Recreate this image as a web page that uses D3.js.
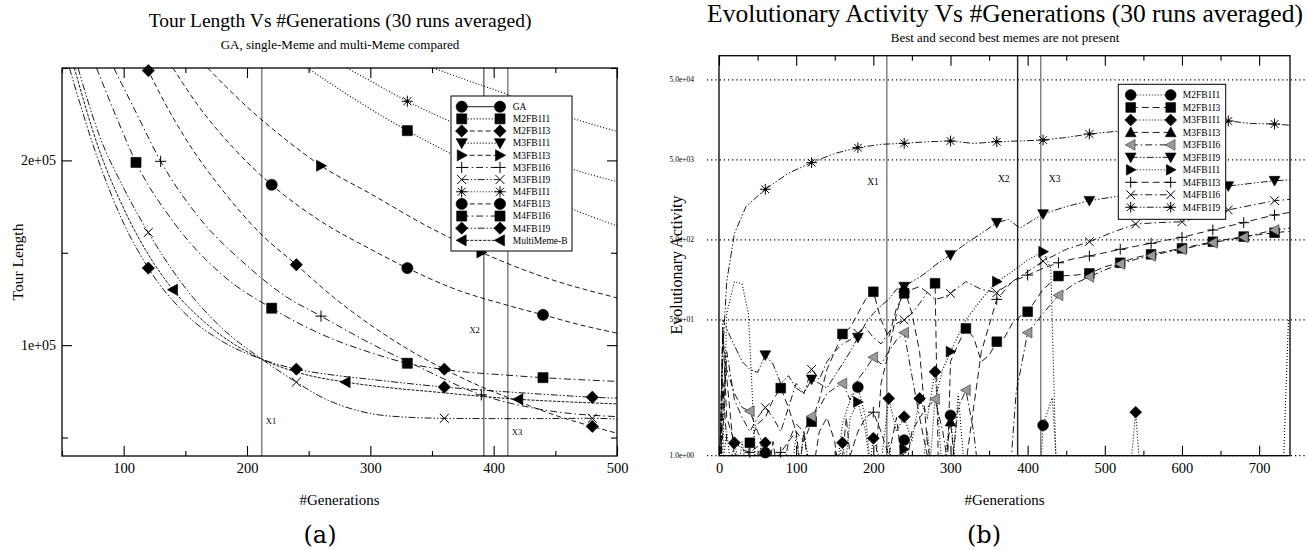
<!DOCTYPE html>
<html>
<head>
<meta charset="utf-8">
<script src="https://cdn.jsdelivr.net/npm/d3@7"></script>
<style>
  body { margin: 0; background: #fff; }
</style>
</head>
<body>
<script>
// ---------- panel (a): tour length, [generation, tour length] ----------
var tourGA = []; // GA curve lies above the plotted range
var tourM2FB1I1 = [[249,250000],[290,232000],[330,216100],[370,202000],[410,189000],[440,180500],[470,172000],[500,164500]];
var tourM2FB1I3 = [[119,250000],[120,248600],[150,212000],[180,184000],[210,161000],[240,143500],[270,126000],[300,111000],[330,98000],[360,87000],[390,77500],[420,69500],[450,62000],[480,56000],[500,52300]];
var tourM3FB1I1 = [[351,250000],[380,243000],[410,236000],[440,228000],[470,221500],[500,215700]];
var tourM3FB1I3 = [[168,250000],[200,229000],[230,212000],[260,197100],[300,182000],[350,163000],[390,150200],[440,137000],[500,125600]];
var tourM3FB1I6 = [[92,250000],[110,226000],[130,199500],[160,170000],[200,143000],[230,127000],[260,115700],[300,101000],[340,88000],[390,73100],[440,65000],[500,61300]];
var tourM3FB1I9 = [[63,250000],[80,214000],[100,185000],[120,161000],[150,131000],[180,109000],[212,92400],[240,80000],[260,72000],[280,66500],[300,63000],[330,61000],[360,60400],[420,60200],[480,60400],[500,60000]];
var tourM4FB1I1 = [[281,250000],[300,243000],[330,232000],[370,219500],[410,208500],[440,201000],[470,194000],[500,188500]];
var tourM4FB1I3 = [[140,250000],[160,230000],[190,206000],[220,186800],[260,167000],[300,152000],[330,141700],[370,130000],[410,121800],[440,116400],[470,111000],[500,106500]];
var tourM4FB1I6 = [[78,250000],[95,222000],[110,198900],[140,167000],[180,138000],[220,120000],[260,106000],[300,96000],[330,90200],[370,86000],[410,83800],[440,82400],[470,81300],[500,80400]];
var tourM4FB1I9 = [[56,250000],[80,199000],[100,166000],[120,141700],[150,117000],[180,102000],[212,92400],[240,87000],[270,83800],[300,81500],[330,79300],[360,77300],[390,75700],[420,74300],[450,73000],[480,71800],[500,71300]];
var tourMultiMemeB = [[60,250000],[80,206000],[100,174000],[120,149000],[140,130000],[170,110000],[212,92400],[245,84500],[280,80000],[315,77000],[350,74800],[385,72600],[420,70700],[460,69300],[500,68200]];

var tourXMajor = [100, 200, 300, 400, 500];
var tourXMinor = [50, 150, 250, 350, 450];
var tourYMajor = [100000, 200000];
var tourYMinor = [50000, 150000, 250000];
var tourEvents = [{label: "X1", gen: 212, at: 59000, side: 1}, {label: "X2", gen: 392, at: 108000, side: -1}, {label: "X3", gen: 411.5, at: 53000, side: 1}];

// ---------- panel (b): evolutionary activity, [generation, activity] ----------
// values below 1 fall under the log axis and are clipped away
var evoM2FB1I1 = [[0,0.3],[10,2],[20,0.3],[30,1.5],[40,0.3],[50,0.6],[60,1.09],[70,0.3],[90,0.3],[100,1.8],[110,0.3],[130,0.3],[150,0.4],[160,2.5],[170,5],[180,7.2],[190,3],[200,0.3],[210,0.4],[220,1.5],[230,0.3],[240,1.57],[250,0.3],[260,0.4],[270,2],[280,0.3],[290,0.6],[300,3.2],[310,0.3],[415,0.3],[420,2.4],[432,5.3],[440,0.3]];
var evoM2FB1I3 = [[0,0.3],[5,8],[10,1.5],[20,1.2],[30,0.3],[40,1.45],[50,2.5],[60,3],[70,5],[80,7.0],[90,4],[100,2],[110,1.5],[120,2.66],[130,5],[140,12],[150,20],[160,33.2],[170,40],[180,60],[190,90],[200,112],[210,50],[220,30],[230,70],[240,107],[250,120],[260,130],[270,110],[280,143],[285,0.3],[295,0.3],[300,15],[310,25],[320,39],[330,30],[340,15],[350,18],[360,26.6],[370,30],[380,45],[390,55],[400,63],[420,120],[440,176],[460,180],[480,190],[500,230],[520,258],[540,300],[560,329],[580,360],[600,391],[620,430],[640,473],[660,510],[680,548],[700,580],[720,613],[740,640]];
var evoM3FB1I1 = [[0,0.3],[10,0.5],[20,1.45],[30,0.5],[40,0.3],[50,0.5],[60,1.45],[70,0.4],[90,0.3],[100,0.6],[110,0.3],[130,0.3],[140,0.6],[150,0.5],[160,1.45],[170,0.4],[180,0.6],[190,0.3],[200,1.65],[210,0.8],[220,5.2],[230,2],[240,3.07],[250,1.5],[260,5.2],[270,3],[280,11.2],[290,0.5],[300,0.3],[310,6],[320,0.4],[330,0.3],[530,0.3],[540,3.5],[548,0.3],[730,0.3],[738,50]];
var evoM3FB1I3 = [[0,0.3],[8,15],[15,3],[25,0.3],[60,0.3],[70,1.5],[80,0.3],[100,0.3],[110,2],[120,0.3],[155,0.3],[165,3],[175,0.3],[200,0.3],[210,8],[220,20],[230,60],[240,125],[250,60],[260,20],[270,1.5],[280,0.3],[290,0.4],[300,2.66],[310,0.3],[340,0.3]];
var evoM3FB1I6 = [[0,0.3],[5,30],[10,12],[20,6],[30,4],[40,3.6],[50,2],[60,1.2],[70,0.5],[80,0.4],[90,1.5],[100,2.5],[110,2],[120,3.1],[130,4],[140,6],[150,7],[160,8.0],[170,5],[180,9],[190,12],[200,17],[210,14],[220,20],[230,28],[240,34.5],[250,10],[260,3],[270,4],[280,5.1],[290,2],[300,0.5],[310,4],[320,6.6],[330,2],[340,0.3],[360,0.4],[375,0.3],[385,6],[400,34.5],[420,60],[440,101],[460,140],[480,172],[500,210],[520,249],[540,285],[560,315],[580,350],[600,380],[620,420],[640,459],[660,500],[680,537],[700,600],[720,663],[740,700]];
var evoM3FB1I9 = [[0,0.3],[5,50],[15,30],[30,15],[40,12],[50,11],[60,18.1],[70,14],[80,8],[90,10],[100,7],[110,6],[120,9.0],[130,8],[140,7],[150,10],[160,14],[170,20],[180,30],[190,45],[200,60],[210,75],[220,90],[230,120],[240,130],[250,150],[260,170],[270,200],[280,240],[290,280],[300,323],[320,450],[340,600],[360,818],[375,900],[390,700],[420,1050],[450,1300],[480,1540],[540,1900],[600,2150],[660,2350],[720,2740],[740,2800]];
var evoM4FB1I1 = [[0,0.3],[5,1],[10,60],[20,150],[30,140],[38,60],[42,10],[48,0.5],[55,1.5],[60,0.5],[70,0.3],[100,0.3],[110,2],[120,0.5],[130,0.3],[160,0.3],[170,3],[180,4.7],[190,2],[200,0.3],[230,0.3],[240,1.2],[250,0.3],[270,0.3],[280,5],[290,12],[300,20],[320,50],[340,90],[360,150],[380,200],[400,280],[420,355],[430,220],[438,0.3]];
var evoM4FB1I3 = [[0,0.3],[5,40],[10,3],[20,1.5],[30,1.2],[40,1.1],[50,1.3],[60,1.5],[70,0.8],[80,1.1],[90,1.5],[100,2],[110,0.3],[120,0.5],[130,2],[140,3],[150,1.5],[160,0.3],[170,1],[180,2],[190,3],[200,3.5],[210,2],[220,1],[230,3],[240,0.5],[250,2],[260,3],[270,1],[280,0.3],[300,0.3],[320,0.8],[340,20],[360,90],[380,150],[400,181],[420,220],[440,258],[460,290],[480,313],[500,345],[520,380],[540,415],[560,452],[580,495],[600,537],[620,600],[640,663],[660,740],[680,818],[700,920],[720,1020],[740,1100]];
var evoM4FB1I6 = [[0,0.3],[5,2],[10,20],[20,5],[30,3],[40,2],[50,3],[60,4],[70,3],[80,2],[90,4],[100,8],[110,6],[120,12],[130,9],[140,15],[150,20],[160,25],[170,28],[180,33.9],[190,40],[200,30],[210,25],[220,35],[230,45],[240,49.7],[250,60],[260,80],[270,110],[280,90],[290,95],[300,107],[320,150],[340,120],[360,109],[380,150],[400,200],[420,270],[450,380],[480,473],[510,620],[540,787],[570,820],[600,841],[630,1000],[660,1180],[690,1350],[720,1540],[740,1600]];
var evoM4FB1I9 = [[2,0.3],[5,20],[10,150],[20,600],[35,1300],[60,2140],[90,3400],[120,4600],[150,6000],[180,7080],[210,7800],[240,8035],[270,8400],[300,8590],[330,8000],[360,8410],[390,8600],[420,8830],[450,9500],[480,10500],[540,12000],[600,13500],[660,15270],[690,14200],[720,14000],[740,13500]];

var evoXMajor = [0, 100, 200, 300, 400, 500, 600, 700];
var evoXMinor = [50, 150, 250, 350, 450, 550, 650];
var evoGrid = [1, 50, 500, 5000, 50000];
var evoEvents = [{label: "X1", gen: 217.5, at: 2660, side: -1}, {label: "X2", gen: 387, at: 2880, side: -1}, {label: "X3", gen: 417, at: 2880, side: 1}];

// ---------- drawing ----------
var serif = "'Liberation Serif','Times New Roman',serif";
var dashes = {solid: null, dot: "1,2", dash: "5,3", longDash: "7,4", dashDot: "7,3,1.5,3", dashDotDot: "7,2,1.5,2,1.5,2", fine: "3,1.3"};

var svg = d3.select("body").append("svg")
  .attr("width", 1308).attr("height", 550)
  .style("font-family", serif);
var defs = svg.append("defs");

function symPath(type, r) {
  var k = r * 0.8;
  switch (type) {
    case "circle": return "M" + r + ",0A" + r + "," + r + " 0 1,1 " + (-r) + ",0A" + r + "," + r + " 0 1,1 " + r + ",0Z";
    case "square": r = r * 0.9; return "M" + (-r) + "," + (-r) + "H" + r + "V" + r + "H" + (-r) + "Z";
    case "diamond": r = r * 1.1; return "M0," + (-r) + "L" + r + ",0L0," + r + "L" + (-r) + ",0Z";
    case "up": return "M0," + (-r) + "L" + r + "," + k + "L" + (-r) + "," + k + "Z";
    case "down": return "M0," + r + "L" + r + "," + (-k) + "L" + (-r) + "," + (-k) + "Z";
    case "right": return "M" + r + ",0L" + (-k) + "," + r + "L" + (-k) + "," + (-r) + "Z";
    case "left": case "leftGray": return "M" + (-r) + ",0L" + k + "," + r + "L" + k + "," + (-r) + "Z";
    case "plus": return "M" + (-r) + ",0H" + r + "M0," + (-r) + "V" + r;
    case "cross": k = r * 0.8; return "M" + (-k) + "," + (-k) + "L" + k + "," + k + "M" + (-k) + "," + k + "L" + k + "," + (-k);
    case "star": k = r * 0.72; return "M" + (-r) + ",0H" + r + "M0," + (-r) + "V" + r + "M" + (-k) + "," + (-k) + "L" + k + "," + k + "M" + (-k) + "," + k + "L" + k + "," + (-k);
  }
}

function drawSym(g, pts, type, r) {
  var open = type === "plus" || type === "cross" || type === "star";
  g.selectAll(null).data(pts).join("path")
    .attr("transform", function (d) { return "translate(" + d[0] + "," + d[1] + ")"; })
    .attr("d", symPath(type, r))
    .attr("fill", open ? "none" : (type === "leftGray" ? "#9a9a9a" : "#000"))
    .attr("stroke", type === "leftGray" ? "#333" : "#000")
    .attr("stroke-width", open ? 1 : 0.6);
  if (type === "star") {
    g.selectAll(null).data(pts).join("circle")
      .attr("cx", function (d) { return d[0]; }).attr("cy", function (d) { return d[1]; })
      .attr("r", 1.6).attr("fill", "#000");
  }
}

function panel(p) {
  var g = svg.append("g");
  var x = p.x, y = p.y;
  var cid = "clip-" + p.id;
  defs.append("clipPath").attr("id", cid).append("rect")
    .attr("x", p.left).attr("y", p.top)
    .attr("width", p.right - p.left).attr("height", p.bottom - p.top);

  // horizontal dotted grid (panel b)
  if (p.grid) {
    g.selectAll(null).data(p.grid).join("line")
      .attr("x1", p.left - 12).attr("x2", p.right + 15)
      .attr("y1", function (d) { return y(d); }).attr("y2", function (d) { return y(d); })
      .attr("stroke", "#000").attr("stroke-width", 1.2).attr("stroke-dasharray", "1.2,3");
    g.selectAll(null).data(p.grid).join("text")
      .attr("x", p.left - 25).attr("y", function (d) { return y(d) + 2.5; })
      .attr("text-anchor", "end").attr("font-size", 7.5)
      .text(function (d) {
        var e = Math.floor(Math.log10(d) + 1e-9);
        return (d / Math.pow(10, e)).toFixed(1) + "e+" + String(e).padStart(2, "0");
      });
  }

  // vertical event lines
  g.selectAll(null).data(p.events).join("line")
    .attr("x1", function (d) { return x(d.gen); }).attr("x2", function (d) { return x(d.gen); })
    .attr("y1", p.top).attr("y2", p.bottom)
    .attr("stroke", function (d, i) { return p.eventColors[i]; }).attr("stroke-width", 1.4);
  g.selectAll(null).data(p.events).join("text")
    .attr("x", function (d) { return x(d.gen) + d.side * p.eventGap; })
    .attr("y", function (d) { return y(d.at) + 3; })
    .attr("text-anchor", function (d) { return d.side > 0 ? "start" : "end"; })
    .attr("font-size", p.eventFont)
    .text(function (d) { return d.label; });

  // curves
  var line = d3.line().x(function (d) { return x(d[0]); }).y(function (d) { return y(d[1]); }).curve(p.curve);
  var lg = g.append("g").attr("clip-path", "url(#" + cid + ")");
  lg.selectAll("path").data(p.series.filter(function (s) { return s.data.length; })).join("path")
    .attr("d", function (s) { return line(s.data); })
    .attr("fill", "none").attr("stroke", "#000")
    .attr("stroke-width", function (s) { return s.dash === "dot" ? 1.1 : 0.9; })
    .attr("stroke-dasharray", function (s) { return dashes[s.dash]; });

  // point markers
  var xd = x.domain(), yd = y.domain();
  p.series.forEach(function (s) {
    var pts = s.data.filter(function (d) {
      return d[0] >= s.mark[0] && (d[0] - s.mark[0]) % s.mark[1] === 0 &&
        d[0] >= xd[0] && d[0] <= xd[1] && d[1] >= yd[0] && d[1] <= yd[1];
    }).map(function (d) { return [x(d[0]), y(d[1])]; });
    drawSym(g, pts, s.sym, p.symR);
  });

  // frame
  g.append("rect").attr("x", p.left).attr("y", p.top)
    .attr("width", p.right - p.left).attr("height", p.bottom - p.top)
    .attr("fill", "none").attr("stroke", "#000").attr("stroke-width", 1.3);

  // x ticks, bottom and top
  var ab = g.append("g").attr("transform", "translate(0," + p.bottom + ")")
    .call(d3.axisBottom(x).tickValues(p.xMajor).tickSize(-10).tickPadding(7).tickFormat(d3.format("d")));
  ab.append("g").call(d3.axisBottom(x).tickValues(p.xMinor).tickSize(-5).tickFormat(""));
  var at = g.append("g").attr("transform", "translate(0," + p.top + ")")
    .call(d3.axisTop(x).tickValues(p.xMajor).tickSize(-10).tickFormat(""));
  at.append("g").call(d3.axisTop(x).tickValues(p.xMinor).tickSize(-5).tickFormat(""));
  [ab, at].forEach(function (a) {
    a.selectAll(".domain").remove();
    a.attr("font-family", serif).attr("font-size", 14.5);
    a.selectAll("line").attr("stroke-width", 1.1);
  });

  // y ticks (panel a)
  if (p.yMajor) {
    var fmt = function (d) {
      var e = Math.floor(Math.log10(d) + 1e-9);
      return Math.round(d / Math.pow(10, e)) + "e+" + String(e).padStart(2, "0");
    };
    var al = g.append("g").attr("transform", "translate(" + p.left + ",0)")
      .call(d3.axisLeft(y).tickValues(p.yMajor).tickSize(-10).tickPadding(6).tickFormat(fmt));
    al.append("g").call(d3.axisLeft(y).tickValues(p.yMinor).tickSize(-6).tickFormat(""));
    var ar = g.append("g").attr("transform", "translate(" + p.right + ",0)")
      .call(d3.axisRight(y).tickValues(p.yMajor).tickSize(-10).tickFormat(""));
    ar.append("g").call(d3.axisRight(y).tickValues(p.yMinor).tickSize(-6).tickFormat(""));
    [al, ar].forEach(function (a) {
      a.selectAll(".domain").remove();
      a.attr("font-family", serif).attr("font-size", 14);
      a.selectAll("line").attr("stroke-width", 1.1);
    });
  }

  // legend
  var L = p.legend;
  var leg = g.append("g");
  leg.append("rect").attr("x", L.x).attr("y", L.y).attr("width", L.w).attr("height", L.h)
    .attr("fill", "#fff").attr("stroke", "#000").attr("stroke-width", 1);
  p.series.forEach(function (s, i) {
    var cy = L.y0 + i * L.dy;
    leg.append("line").attr("x1", L.s1).attr("x2", L.s2).attr("y1", cy).attr("y2", cy)
      .attr("stroke", "#000").attr("stroke-width", s.dash === "dot" ? 1.1 : 0.9)
      .attr("stroke-dasharray", dashes[s.dash]);
    drawSym(leg, [[L.s1, cy], [L.s2, cy]], s.sym, p.symR);
    leg.append("text").attr("x", L.tx).attr("y", cy + 3.3).attr("font-size", L.font).text(s.name);
  });

  // titles
  g.append("text").attr("x", p.cx).attr("y", p.titleY).attr("text-anchor", "middle")
    .attr("font-size", p.titleFont).text(p.title);
  g.append("text").attr("x", p.cx).attr("y", p.subY).attr("text-anchor", "middle")
    .attr("font-size", 13).text(p.subtitle);
  g.append("text").attr("x", (p.left + p.right) / 2).attr("y", 505).attr("text-anchor", "middle")
    .attr("font-size", 15).text("#Generations");
  g.append("text").attr("transform", "translate(" + p.ylabX + "," + p.ylabY + ") rotate(-90)")
    .attr("text-anchor", "middle").attr("font-size", p.ylabFont).text(p.ylabel);
  g.append("text").attr("x", p.tagX).attr("y", 543).attr("text-anchor", "middle")
    .attr("font-size", 24).attr("font-family", "'DejaVu Serif',serif").attr("font-weight", 300).text(p.tag);
}

// panel (a)
panel({
  id: "a", left: 62, right: 617, top: 68, bottom: 456,
  x: d3.scaleLinear().domain([50, 500]).range([62, 617]),
  y: d3.scaleLinear().domain([40000, 250000]).range([456, 68]),
  curve: d3.curveMonotoneX,
  xMajor: tourXMajor, xMinor: tourXMinor, yMajor: tourYMajor, yMinor: tourYMinor,
  events: tourEvents, eventColors: ["#7a7a7a", "#666", "#7a7a7a"], eventGap: 4, eventFont: 8.5,
  symR: 5.6,
  series: [
    {name: "GA", data: tourGA, sym: "circle", dash: "solid", mark: [110, 110]},
    {name: "M2FB1I1", data: tourM2FB1I1, sym: "square", dash: "dot", mark: [110, 110]},
    {name: "M2FB1I3", data: tourM2FB1I3, sym: "diamond", dash: "dash", mark: [120, 120]},
    {name: "M3FB1I1", data: tourM3FB1I1, sym: "down", dash: "dot", mark: [110, 110]},
    {name: "M3FB1I3", data: tourM3FB1I3, sym: "right", dash: "dash", mark: [130, 130]},
    {name: "M3FB1I6", data: tourM3FB1I6, sym: "plus", dash: "dashDot", mark: [130, 130]},
    {name: "M3FB1I9", data: tourM3FB1I9, sym: "cross", dash: "dashDotDot", mark: [120, 120]},
    {name: "M4FB1I1", data: tourM4FB1I1, sym: "star", dash: "dot", mark: [110, 110]},
    {name: "M4FB1I3", data: tourM4FB1I3, sym: "circle", dash: "dash", mark: [110, 110]},
    {name: "M4FB1I6", data: tourM4FB1I6, sym: "square", dash: "dashDot", mark: [110, 110]},
    {name: "M4FB1I9", data: tourM4FB1I9, sym: "diamond", dash: "dashDotDot", mark: [120, 120]},
    {name: "MultiMeme-B", data: tourMultiMemeB, sym: "left", dash: "fine", mark: [140, 140]}
  ],
  legend: {x: 451, y: 96, w: 121, h: 155, y0: 106.7, dy: 12.15, s1: 461.7, s2: 500, tx: 512.7, font: 9.5},
  title: "Tour Length Vs #Generations (30 runs averaged)", titleFont: 19.5, cx: 340, titleY: 27,
  subtitle: "GA, single-Meme and multi-Meme compared", subY: 49,
  ylabel: "Tour Length", ylabFont: 15.5, ylabX: 23, ylabY: 262, tag: "(a)", tagX: 320
});

// panel (b)
panel({
  id: "b", left: 719, right: 1290, top: 55.7, bottom: 455.7,
  x: d3.scaleLinear().domain([0, 740]).range([719, 1290]),
  y: d3.scaleLog().domain([1, 100000]).range([455.7, 55.7]),
  curve: d3.curveLinear,
  xMajor: evoXMajor, xMinor: evoXMinor, grid: evoGrid,
  events: evoEvents, eventColors: ["#7a7a7a", "#222", "#7a7a7a"], eventGap: 8, eventFont: 9.5,
  symR: 5.4,
  series: [
    {name: "M2FB1I1", data: evoM2FB1I1, sym: "circle", dash: "dot", mark: [60, 60]},
    {name: "M2FB1I3", data: evoM2FB1I3, sym: "square", dash: "longDash", mark: [40, 40]},
    {name: "M3FB1I1", data: evoM3FB1I1, sym: "diamond", dash: "dot", mark: [20, 20]},
    {name: "M3FB1I3", data: evoM3FB1I3, sym: "up", dash: "longDash", mark: [60, 60]},
    {name: "M3FB1I6", data: evoM3FB1I6, sym: "leftGray", dash: "dashDot", mark: [40, 40]},
    {name: "M3FB1I9", data: evoM3FB1I9, sym: "down", dash: "dashDotDot", mark: [60, 60]},
    {name: "M4FB1I1", data: evoM4FB1I1, sym: "right", dash: "dot", mark: [60, 60]},
    {name: "M4FB1I3", data: evoM4FB1I3, sym: "plus", dash: "longDash", mark: [40, 40]},
    {name: "M4FB1I6", data: evoM4FB1I6, sym: "cross", dash: "dashDot", mark: [60, 60]},
    {name: "M4FB1I9", data: evoM4FB1I9, sym: "star", dash: "dashDotDot", mark: [60, 60]}
  ],
  legend: {x: 1118.3, y: 84.3, w: 107.4, h: 135, y0: 95, dy: 12.47, s1: 1130.7, s2: 1170.7, tx: 1182.7, font: 9.5},
  title: "Evolutionary Activity Vs #Generations (30 runs averaged)", titleFont: 25.5, cx: 1005, titleY: 22,
  subtitle: "Best and second best memes are not present", subY: 42,
  ylabel: "Evolutionary Activity", ylabFont: 16, ylabX: 682, ylabY: 265, tag: "(b)", tagX: 984
});
</script>
</body>
</html>
